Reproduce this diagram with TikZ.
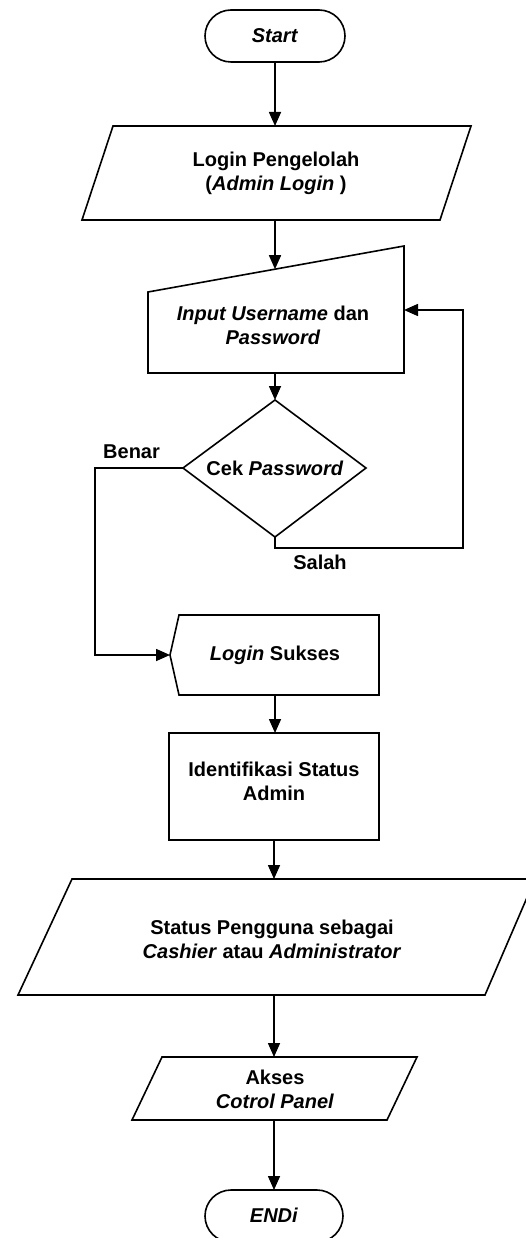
\documentclass[tikz,border=0pt]{standalone}
\usepackage{fontspec}
\setmainfont{Liberation Sans}
\usetikzlibrary{arrows.meta}
\begin{document}
\begin{tikzpicture}[x=1pt,y=-1pt,
  shapeline/.style={line width=1.6pt, line join=miter},
  flow/.style={line width=1.6pt, -{Triangle[length=14pt,width=12pt]}},
  plain/.style={line width=1.6pt},
  txt/.style={align=center, font=\fontsize{20}{24}\selectfont\bfseries, inner sep=0pt},
]
\useasboundingbox (0,0) rectangle (526,1238);
\fill[white] (0,0) rectangle (526,1238);
\clip (0,0) rectangle (526,1238);

% ---- shapes ----
% Start terminal
\draw[shapeline, rounded corners=26pt] (205,10) rectangle (345,62);
\node[txt] (start) at (275,36) {\textit{Start}};
\coordinate (start-b) at (275,62);

% Login Pengelolah (parallelogram)
\draw[shapeline] (113,126) -- (471,126) -- (440,220) -- (82,220) -- cycle;
\node[txt] (login) at (276,173) {Login Pengelolah\\(\textit{Admin Login} )};
\coordinate (login-t) at (275,126);
\coordinate (login-b) at (275,220);

% Input Username (manual input)
\draw[shapeline] (148,292) -- (404,246) -- (404,373) -- (148,373) -- cycle;
\node[txt] (input) at (273,325) {\textit{Input Username} dan\\\textit{Password}};
\coordinate (input-t) at (275,269.2);
\coordinate (input-b) at (275,373);
\coordinate (input-r) at (404,310);

% Cek Password (decision)
\draw[shapeline] (275,400) -- (366,468) -- (275,537) -- (183,468) -- cycle;
\node[txt] (cek) at (275,468) {Cek \textit{Password}};
\coordinate (cek-t) at (275,400);
\coordinate (cek-b) at (275,537);
\coordinate (cek-l) at (183,468);
\coordinate (salah-c) at (275,548);
\coordinate (salah-r) at (463,548);
\coordinate (salah-u) at (463,310);
\coordinate (benar-l) at (95,468);
\coordinate (benar-d) at (95,655);
\node[txt, anchor=west] (benar) at (103,452) {Benar};
\node[txt] (salah) at (320,562) {Salah};

% Login Sukses (display)
\draw[shapeline] (179,615) -- (379,615) -- (379,695) -- (179,695) -- (170,655) -- cycle;
\node[txt] (sukses) at (275,655) {\textit{Login} Sukses};
\coordinate (sukses-l) at (170,655);
\coordinate (sukses-b) at (275,695);

% Identifikasi Status Admin (process)
\draw[shapeline] (169,733) rectangle (379,840);
\node[txt] (ident) at (274,781) {Identifikasi Status\\Admin};
\coordinate (ident-t) at (275,733);
\coordinate (ident-b) at (274,840);

% Status Pengguna (parallelogram)
\draw[shapeline] (72,879) -- (535,879) -- (485,995) -- (18,995) -- cycle;
\node[txt] (status) at (272,939) {Status Pengguna sebagai\\\textit{Cashier} atau \textit{Administrator}};
\coordinate (status-t) at (274,879);
\coordinate (status-b) at (274,995);

% Akses Cotrol Panel (parallelogram)
\draw[shapeline] (162,1057) -- (417,1057) -- (387,1120) -- (132,1120) -- cycle;
\node[txt] (akses) at (275,1089) {Akses\\\textit{Cotrol Panel}};
\coordinate (akses-t) at (274,1057);
\coordinate (akses-b) at (274,1120);

% End terminal
\draw[shapeline, rounded corners=26pt] (205,1190) rectangle (343,1242);
\node[txt] (endn) at (274,1215) {\textit{ENDi}};
\coordinate (end-t) at (274,1190);

% ---- connectors ----
\draw[flow] (start-b) -- (login-t);
\draw[flow] (login-b) -- (input-t);
\draw[flow] (input-b) -- (cek-t);
\draw[flow] (cek-b) -- (salah-c) -- (salah-r) -- (salah-u) -- (input-r);
\draw[flow] (cek-l) -- (benar-l) -- (benar-d) -- (sukses-l);
\draw[flow] (sukses-b) -- (ident-t);
\draw[flow] (ident-b) -- (status-t);
\draw[flow] (status-b) -- (akses-t);
\draw[flow] (akses-b) -- (end-t);
\end{tikzpicture}
\end{document}
